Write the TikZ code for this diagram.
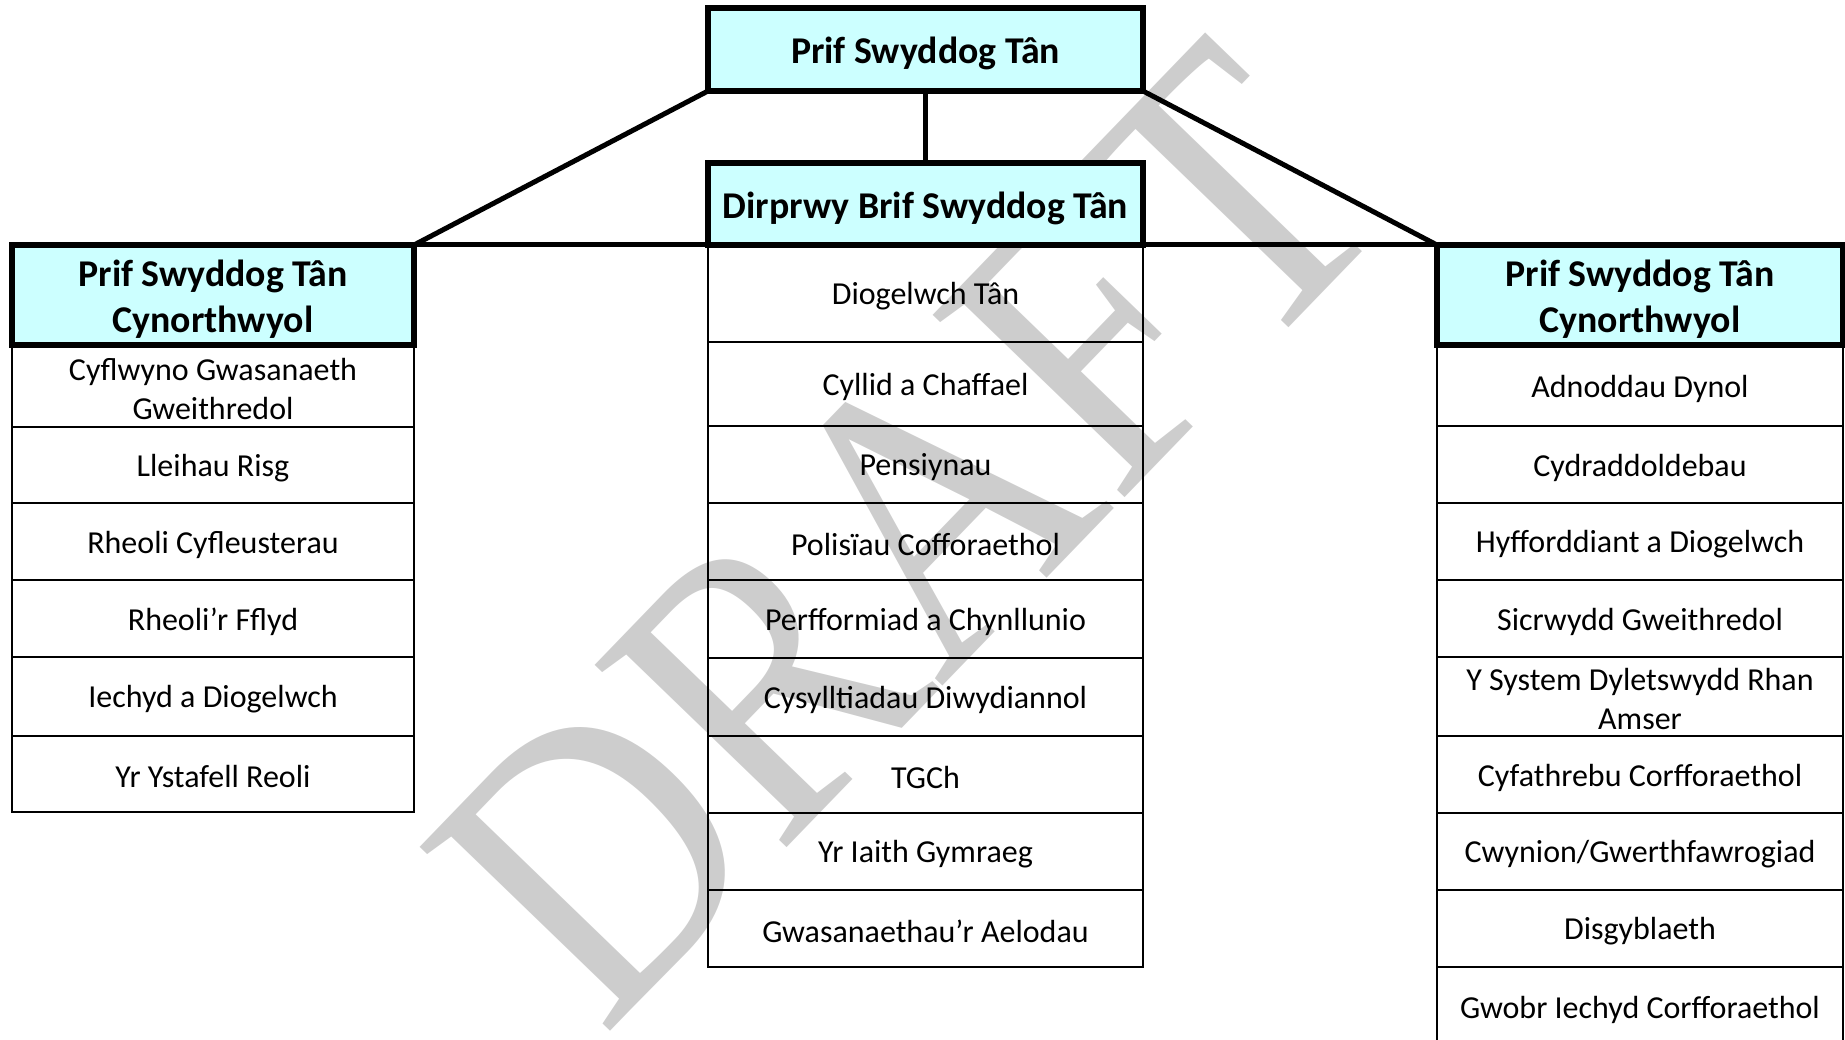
\documentclass[tikz,border=0pt]{standalone}
\usepackage{fontspec}
\setmainfont{Carlito}
\newfontfamily\wmfont{Liberation Serif}
\definecolor{hdrcyan}{HTML}{CCFFFF}
\definecolor{wmgray}{RGB}{205,205,205}
% #1 name, #2 box style, #3 x, #4 y, #5 height, #6 text
\newcommand\mkcell[6]{%
  \node[#2,minimum height=#5pt] (#1) at (#3,#4) {};
  \node[celltxt] (#1t) at ([yshift=-3pt]#1.center) {#6};}
\newcommand\mkhdr[6]{%
  \node[#2,minimum height=#5pt] (#1) at (#3,#4) {};
  \node[hdrtxt] (#1t) at ([yshift=-4pt]#1.center) {#6};}
\begin{document}
\begin{tikzpicture}[x=1pt,y=-1pt,
  cellbox/.style={draw=black, line width=2.5pt, rectangle, inner sep=0pt, outer sep=0pt},
  hdrbox/.style={draw=black, line width=5.5pt, fill=hdrcyan, rectangle, inner sep=0pt, outer sep=0pt},
  celltxt/.style={inner sep=0pt, align=center, font=\fontsize{32}{39}\selectfont},
  hdrtxt/.style={inner sep=0pt, align=center, font=\fontsize{37.8}{46}\selectfont\bfseries},
  lcol/.style={cellbox, minimum width=402pt},
  ccol/.style={cellbox, minimum width=435pt},
  rcol/.style={cellbox, minimum width=406pt},
  lhcol/.style={hdrbox, minimum width=402pt},
  chcol/.style={hdrbox, minimum width=435pt},
  rhcol/.style={hdrbox, minimum width=406pt},
  conn/.style={draw=black, line width=5pt}
]
\useasboundingbox (0,0) rectangle (1845,1040);
% watermark
\node[text=wmgray, inner sep=0pt, rotate=46, xscale=0.97, yscale=1.12, transform shape,
      font=\wmfont\fontsize{361}{361}\selectfont] (wm) at (906,533) {DRAFT};

% left column
\mkcell{l1}{lcol}{213}{386}{82}{Cyflwyno Gwasanaeth\\Gweithredol}
\mkcell{l2}{lcol}{213}{465}{76}{Lleihau Risg}
\mkcell{l3}{lcol}{213}{541.5}{77}{Rheoli Cyfleusterau}
\mkcell{l4}{lcol}{213}{618.5}{77}{Rheoli’r Fflyd}
\mkcell{l5}{lcol}{213}{696.5}{79}{Iechyd a Diogelwch}
\mkcell{l6}{lcol}{213}{774}{76}{Yr Ystafell Reoli}

% centre column
\mkcell{c1}{ccol}{925.5}{293.5}{97}{Diogelwch Tân}
\mkcell{c2}{ccol}{925.5}{384}{84}{Cyllid a Chaffael}
\mkcell{c3}{ccol}{925.5}{464.5}{77}{Pensiynau}
\mkcell{c4}{ccol}{925.5}{541.5}{77}{Polisïau Cofforaethol}
\mkcell{c5}{ccol}{925.5}{619}{78}{Perfformiad a Chynllunio}
\mkcell{c6}{ccol}{925.5}{697}{78}{Cysylltiadau Diwydiannol}
\mkcell{c7}{ccol}{925.5}{774.5}{77}{TGCh}
\mkcell{c8}{ccol}{925.5}{851.5}{77}{Yr Iaith Gymraeg}
\mkcell{c9}{ccol}{925.5}{928.5}{77}{Gwasanaethau’r Aelodau}

% right column
\mkcell{r1}{rcol}{1640}{385.5}{81}{Adnoddau Dynol}
\mkcell{r2}{rcol}{1640}{464.5}{77}{Cydraddoldebau}
\mkcell{r3}{rcol}{1640}{541.5}{77}{Hyfforddiant a Diogelwch}
\mkcell{r4}{rcol}{1640}{618.5}{77}{Sicrwydd Gweithredol}
\mkcell{r5}{rcol}{1640}{696.5}{79}{Y System Dyletswydd Rhan\\Amser}
\mkcell{r6}{rcol}{1640}{774.5}{77}{Cyfathrebu Corfforaethol}
\mkcell{r7}{rcol}{1640}{851.5}{77}{Cwynion/Gwerthfawrogiad}
\mkcell{r8}{rcol}{1640}{928.5}{77}{Disgyblaeth}
\mkcell{r9}{rcol}{1640}{1007}{80}{Gwobr Iechyd Corfforaethol}

% headers
\mkhdr{top}{chcol}{925.5}{49.5}{83}{Prif Swyddog Tân}
\mkhdr{dep}{chcol}{925.5}{204}{82}{Dirprwy Brif Swyddog Tân}
\mkhdr{lh}{lhcol}{213}{295}{100}{Prif Swyddog Tân\\Cynorthwyol}
\mkhdr{rh}{rhcol}{1640}{295}{100}{Prif Swyddog Tân\\Cynorthwyol}

% connectors
\draw[conn] (top.south) -- (dep.north);
\draw[conn] (top.south west) -- (lh.north east);
\draw[conn] (top.south east) -- (rh.north west);
\draw[conn] (lh.north east) -- (dep.south west);
\draw[conn] (dep.south east) -- (rh.north west);
\end{tikzpicture}
\end{document}
